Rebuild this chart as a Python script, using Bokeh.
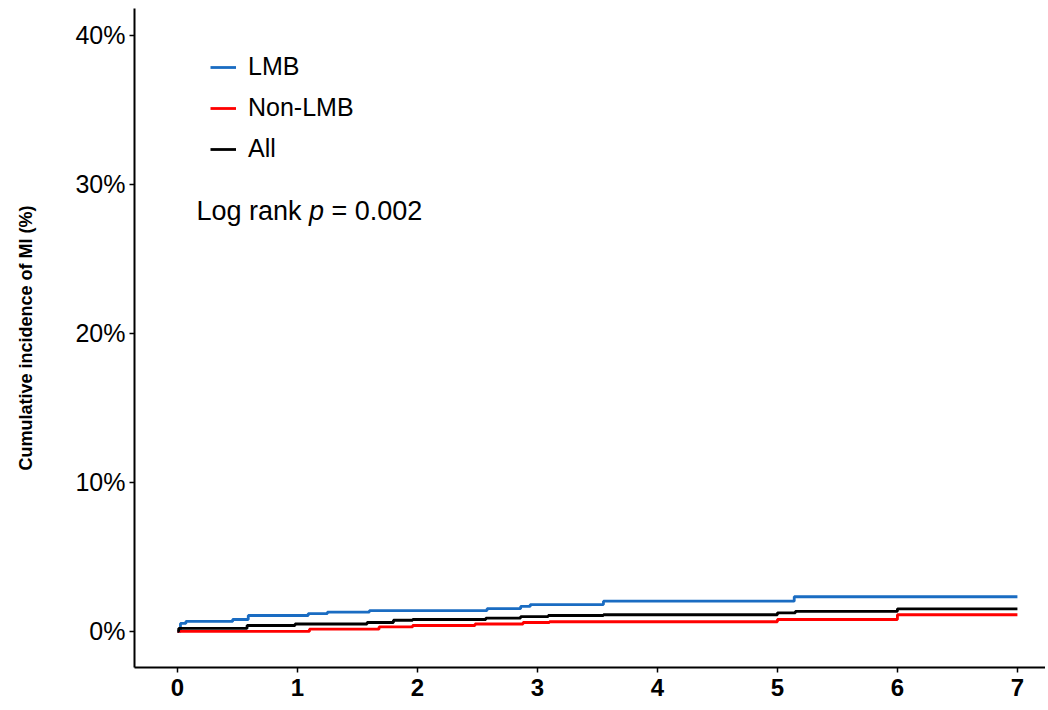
from bokeh.plotting import figure
from bokeh.models import Range1d, FixedTicker, PrintfTickFormatter, Legend, LegendItem, Label
from bokeh.embed import file_html
from bokeh.resources import INLINE

# Data (years, cumulative incidence %)
lmb_years = [0, 0.025, 0.07, 0.46, 0.59, 1.09, 1.25, 1.6, 2.58, 2.86, 2.94, 3.55, 5.14, 7.0]
lmb_cum = [0, 0.54, 0.67, 0.8, 1.07, 1.2, 1.3, 1.4, 1.53, 1.68, 1.8, 2.03, 2.33, 2.33]

nonlmb_years = [0, 1.1, 1.68, 1.96, 2.48, 2.88, 3.1, 5.0, 6.0, 7.0]
nonlmb_cum = [0, 0.15, 0.3, 0.4, 0.5, 0.6, 0.65, 0.8, 1.12, 1.12]

all_years = [0, 0.01, 0.58, 0.98, 1.58, 1.8, 1.96, 2.57, 2.86, 3.09, 3.55, 5.0, 5.15, 6.0, 7.0]
all_cum = [0, 0.2, 0.4, 0.5, 0.6, 0.75, 0.8, 0.9, 1.0, 1.07, 1.12, 1.25, 1.35, 1.52, 1.52]

x_ticks = [0, 1, 2, 3, 4, 5, 6, 7]
y_ticks = [0, 10, 20, 30, 40]
series_names = ["LMB", "Non-LMB", "All"]
series_colors = ["#1a6cc2", "#ff0000", "#000000"]

FONT = "Liberation Sans"

p = figure(width=1045, height=706, output_backend="svg", toolbar_location=None,
           x_range=Range1d(-0.358, 7.234), y_range=Range1d(-2.42, 41.81),
           min_border_left=134, min_border_right=0, min_border_top=8, min_border_bottom=39)
p.outline_line_color = None
p.grid.visible = False
p.background_fill_color = "white"
p.border_fill_color = "white"

r_lmb = p.step(lmb_years, lmb_cum, mode="after", line_color=series_colors[0], line_width=2.8)
r_non = p.step(nonlmb_years, nonlmb_cum, mode="after", line_color=series_colors[1], line_width=2.8)
r_all = p.step(all_years, all_cum, mode="after", line_color=series_colors[2], line_width=2.8)

for ax in (p.xaxis[0], p.yaxis[0]):
    ax.axis_line_width = 2
    ax.axis_line_color = "black"
    ax.major_tick_line_width = 1.5
    ax.major_tick_line_color = "black"
    ax.major_tick_out = 5
    ax.major_tick_in = 0
    ax.minor_tick_line_color = None
    ax.major_label_text_color = "black"
    ax.major_label_text_font = FONT

p.xaxis.ticker = FixedTicker(ticks=x_ticks)
p.xaxis.major_label_text_font_size = "24px"
p.xaxis.major_label_text_font_style = "bold"
p.xaxis.major_label_standoff = 6

p.yaxis.ticker = FixedTicker(ticks=y_ticks)
p.yaxis.formatter = PrintfTickFormatter(format="%d%%")
p.yaxis.major_label_text_font_size = "25px"
p.yaxis.major_label_standoff = 4
p.yaxis.axis_label = "Cumulative incidence of MI (%)"
p.yaxis.axis_label_text_font = FONT
p.yaxis.axis_label_text_font_size = "18px"
p.yaxis.axis_label_text_font_style = "bold"
p.yaxis.axis_label_text_color = "black"
p.yaxis.axis_label_standoff = 36

legend = Legend(items=[LegendItem(label=series_names[0], renderers=[r_lmb]),
                       LegendItem(label=series_names[1], renderers=[r_non]),
                       LegendItem(label=series_names[2], renderers=[r_all])],
                location=(76, 504), orientation="vertical",
                label_text_font=FONT, label_text_font_size="25px",
                label_text_color="black", label_standoff=12,
                glyph_width=26, glyph_height=20, label_height=20,
                spacing=12, padding=0, margin=0,
                border_line_color=None, background_fill_alpha=0)
p.add_layout(legend, "center")

FS = 27
lab1 = Label(x=62, y=457, x_units="screen", y_units="screen", text="Log rank",
             text_font=FONT, text_font_size=f"{FS}px", text_baseline="middle", text_color="black")
lab2 = Label(x=62 + 112.5, y=457, x_units="screen", y_units="screen", text="p",
             text_font=FONT, text_font_size=f"{FS}px", text_font_style="italic",
             text_baseline="middle", text_color="black")
lab3 = Label(x=62 + 112.5 + 22.5, y=457, x_units="screen", y_units="screen", text="= 0.002",
             text_font=FONT, text_font_size=f"{FS}px", text_baseline="middle", text_color="black")
for l in (lab1, lab2, lab3):
    p.add_layout(l)

open("out.html", "w").write(file_html(p, INLINE))
